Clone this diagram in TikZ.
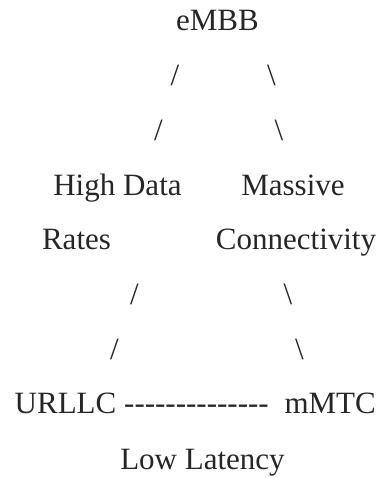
\documentclass[tikz,border=0pt]{standalone}
\usepackage{fontspec}
\setmainfont{Liberation Serif}
\begin{document}
\begin{tikzpicture}[x=1pt,y=1pt,yscale=-1,
  lbl/.style={font=\fontsize{31}{37}\selectfont, inner sep=0pt, anchor=base, text=black!85}]
\useasboundingbox (0,0) rectangle (381,478);

% Text Node
\draw (217.5,31) node [lbl] (embb) {eMBB};
% Text Node
\draw (175,85.7) node [lbl] (sl1) {/};
% Text Node
\draw (271.5,85.7) node [lbl] (bs1) {\textbackslash};
% Text Node
\draw (158.5,140.4) node [lbl] (sl2) {/};
% Text Node
\draw (279,140.4) node [lbl] (bs2) {\textbackslash};
% Text Node
\draw (117.5,195.1) node [lbl] (hdr1) {High Data};
% Text Node
\draw (293,195.1) node [lbl] (mc1) {Massive};
% Text Node
\draw (76.5,249.8) node [lbl] (hdr2) {Rates};
% Text Node
\draw (296,249.8) node [lbl] (mc2) {Connectivity};
% Text Node
\draw (134.5,304.5) node [lbl] (sl3) {/};
% Text Node
\draw (288,304.5) node [lbl] (bs3) {\textbackslash};
% Text Node
\draw (114.5,359.2) node [lbl] (sl4) {/};
% Text Node
\draw (299.5,359.2) node [lbl] (bs4) {\textbackslash};
% Text Node
\draw (14.5,413.9) node [lbl, anchor=base west] (urllc) {URLLC};
% Text Node
\draw (124,413.9) node [lbl, anchor=base west] (dash) {{-}{-}{-}{-}{-}{-}{-}{-}{-}{-}{-}{-}{-}{-}};
% Text Node
\draw (376,413.9) node [lbl, anchor=base east] (mmtc) {mMTC};
% Text Node
\draw (202.5,469.5) node [lbl] (lowlat) {Low Latency};

\end{tikzpicture}
\end{document}
